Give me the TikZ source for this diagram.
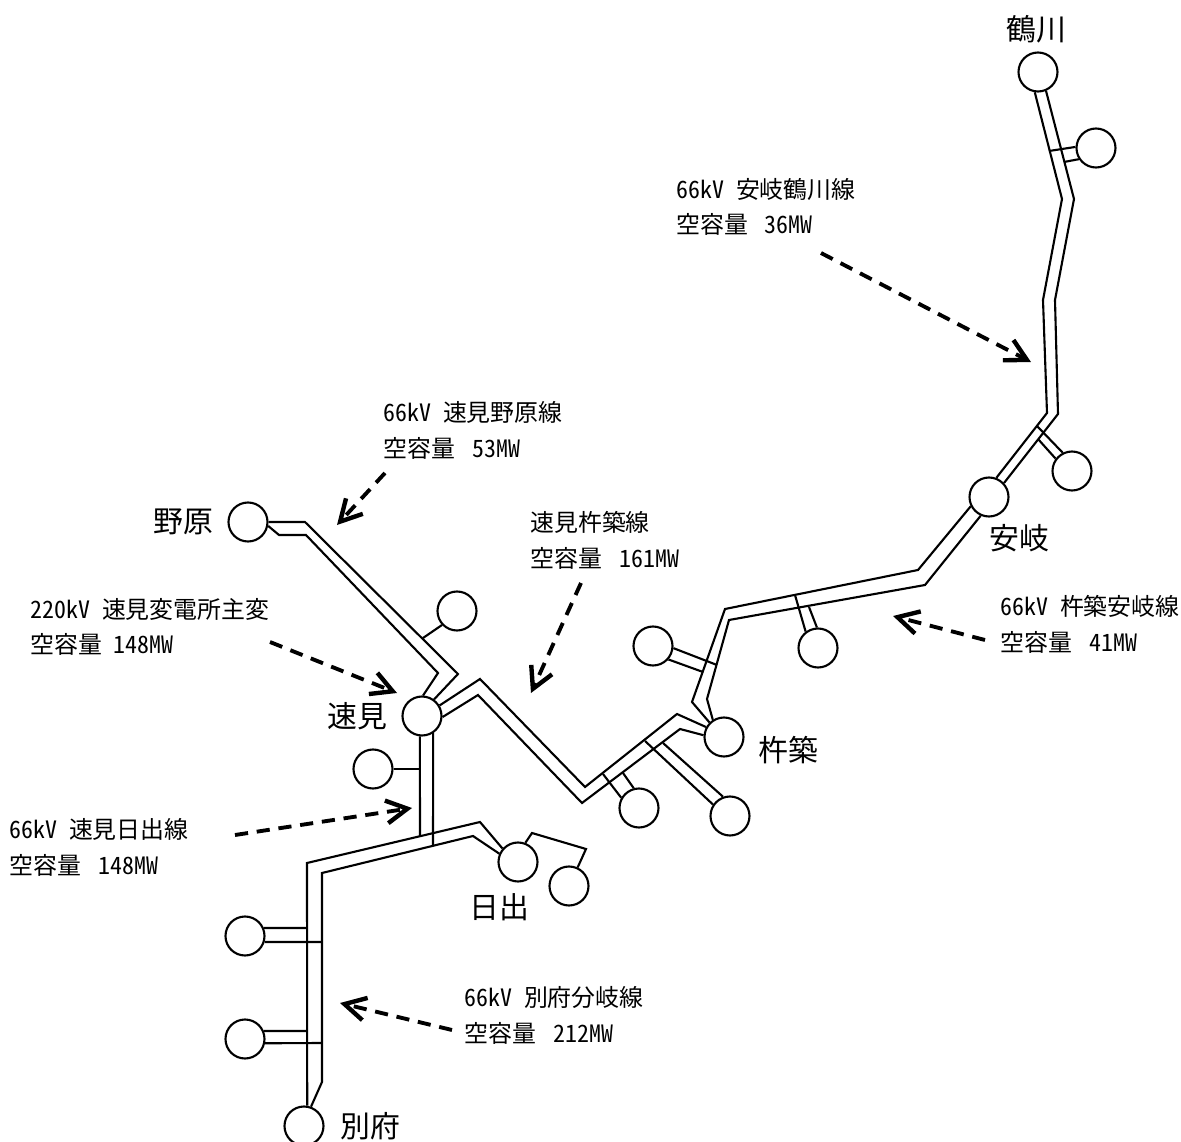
\documentclass[tikz,border=0pt]{standalone}
\usepackage{fontspec}
\newfontfamily\jpfont[RawFeature=+hwid]{Noto Sans CJK JP}
\usetikzlibrary{positioning, arrows.meta}
\tikzset{
bus/.style={circle, draw, line width=1.2pt, minimum size=0.78cm, inner sep=0pt}, % substation circles
wire/.style={line width=1.2pt, line join=miter}, % line conductors
note/.style={line width=2.2pt, dash pattern=on 7.5pt off 5pt, -{Straight Barb[length=12pt, width=13pt, line width=2.5pt]}}, % dashed pointers
place/.style={inner sep=0pt, font=\jpfont\fontsize{17}{20}\selectfont}, % substation names
capacity/.style={inner sep=0pt, anchor=west, align=left, font=\jpfont\fontsize{13.6}{20.4}\selectfont}, % line captions
}

\begin{document}
\begin{tikzpicture}[x=0.02cm, y=-0.02cm]
\useasboundingbox (0,0) rectangle (1181,1142);
% substations
\node[bus] (tsurukawa) at (1038,72) {};
\node[bus] (tsurukawa2) at (1096,148) {};
\node[bus] (anki) at (989,497) {};
\node[bus] (anki2) at (1072,471) {};
\node[bus] (mid1) at (818,648) {};
\node[bus] (mid2) at (653,646) {};
\node[bus] (kine) at (724,737) {};
\node[bus] (kine1) at (639,808) {};
\node[bus] (kine2) at (730,816) {};
\node[bus] (nohara) at (248,522) {};
\node[bus] (nohara2) at (457,611) {};
\node[bus] (hayami) at (422,716) {};
\node[bus] (hayami2) at (373,769) {};
\node[bus] (hiji) at (518,862) {};
\node[bus] (hiji2) at (569,886) {};
\node[bus] (beppu1) at (245,936) {};
\node[bus] (beppu2) at (245,1039) {};
\node[bus] (beppu) at (304,1126) {};
% names
\node[place, above=0.16cm of tsurukawa, xshift=-0.04cm] (n1) {鶴川};
\node[place, left=0.28cm of nohara] (n2) {野原};
\node[place, below right=0.24cm and -0.28cm of anki] (n3) {安岐};
\node[place, left=0.28cm of hayami] (n4) {速見};
\node[place, right=0.28cm of kine, yshift=-0.26cm] (n5) {杵築};
\node[place, below left=0.33cm and -0.52cm of hiji] (n6) {日出};
\node[place, right=0.32cm of beppu] (n7) {別府};
% captions
\node[capacity] (c1) at (676,207) {66kV 安岐鶴川線\\空容量\hspace{2.5pt} 36MW};
\node[capacity] (c2) at (383,430) {66kV 速見野原線\\空容量\hspace{3pt} 53MW};
\node[capacity] (c3) at (530,540) {速見杵築線\\空容量\hspace{3pt} 161MW};
\node[capacity] (c4) at (30,627) {220kV 速見変電所主変\\空容量 148MW};
\node[capacity] (c5) at (1000,624) {66kV 杵築安岐線\\空容量\hspace{3pt} 41MW};
\node[capacity] (c6) at (9,847) {66kV 速見日出線\\空容量\hspace{3pt} 148MW};
\node[capacity] (c7) at (464,1015) {66kV 別府分岐線\\空容量\hspace{3pt} 212MW};
% free ends of the branch lines
\coordinate (t1) at (1049,151);
\coordinate (t2) at (1064,162);
\coordinate (a1) at (1037,426);
\coordinate (a2) at (1038,439);
\coordinate (m1) at (795,595);
\coordinate (m2) at (809,607);
\coordinate (m3) at (717,665);
\coordinate (m4) at (703,672);
\coordinate (k1) at (603,774);
\coordinate (k2) at (623,773);
\coordinate (k3) at (663,743);
\coordinate (k4) at (645,741);
\coordinate (h1) at (423,638);
\coordinate (h2) at (420,769);
\coordinate (h3) at (420,836);
\coordinate (h4) at (433,846);
\coordinate (b1) at (307,928);
\coordinate (b2) at (322,942);
\coordinate (b3) at (307,1031);
\coordinate (b4) at (322,1043);
% double lines
\draw[wire] (tsurukawa.261) -- (1062,199) -- (1043,300) -- (1047,413) -- (anki.69);
\draw[wire] (tsurukawa.293) -- (1074,199) -- (1055,300) -- (1058,414) -- (anki.43);
\draw[wire] (anki.207) -- (918,570) -- (725,609) -- (692,702) -- (kine.135);
\draw[wire] (anki.246) -- (925,585) -- (729,620) -- (707,699) -- (kine.123);
\draw[wire] (kine.151) -- (677,714) -- (585,787) -- (480,679) -- (hayami.31);
\draw[wire] (kine.175) -- (680,729) -- (582,803) -- (478,695) -- (hayami.-3);
\draw[wire] (nohara.0) -- (305,522) -- (458,674) -- (hayami.54);
\draw[wire] (nohara.-11) -- (279,535) -- (306,535) -- (438,673) -- (hayami.87);
\draw[wire] (hiji.139) -- (480,822) -- (307,863) -- (beppu.81);
\draw[wire] (hiji.156) -- (473,836) -- (322,873) -- (322,1082) -- (beppu.70);
\draw[wire] (hayami.264) -- (h3);
\draw[wire] (hayami.303) -- (h4);
% branches
\draw[wire] (tsurukawa2.177) -- (t1);
\draw[wire] (tsurukawa2.213) -- (t2);
\draw[wire] (anki2.117) -- (a1);
\draw[wire] (anki2.143) -- (a2);
\draw[wire] (mid1.127) -- (m1);
\draw[wire] (mid1.93) -- (m2);
\draw[wire] (mid2.-6) -- (m3);
\draw[wire] (mid2.-41) -- (m4);
\draw[wire] (kine1.150) -- (k1);
\draw[wire] (kine1.105) -- (k2);
\draw[wire] (kine2.110) -- (k3);
\draw[wire] (kine2.146) -- (k4);
\draw[wire] (nohara2.223) -- (h1);
\draw[wire] (hayami2.east) -- (h2);
\draw[wire] (hiji.69) -- (532,833) -- (586,849) -- (hiji2.65);
\draw[wire] (beppu1.23) -- (b1);
\draw[wire] (beppu1.-17) -- (b2);
\draw[wire] (beppu2.23) -- (b3);
\draw[wire] (beppu2.-12) -- (b4);
% pointers
\coordinate (s1) at (821,253); \coordinate (e1) at (1031,362);
\coordinate (s2) at (385,473); \coordinate (e2) at (337,525);
\coordinate (s3) at (581,583); \coordinate (e3) at (531,693);
\coordinate (s4) at (270,642); \coordinate (e4) at (397,693);
\coordinate (s5) at (235,835); \coordinate (e5) at (412,808);
\coordinate (s6) at (985,640); \coordinate (e6) at (893,616);
\coordinate (s7) at (452,1030); \coordinate (e7) at (340,1003);
\draw[note] (s1) -- (e1);
\draw[note] (s2) -- (e2);
\draw[note] (s3) -- (e3);
\draw[note] (s4) -- (e4);
\draw[note] (s5) -- (e5);
\draw[note] (s6) -- (e6);
\draw[note] (s7) -- (e7);
\end{tikzpicture}
\end{document}
